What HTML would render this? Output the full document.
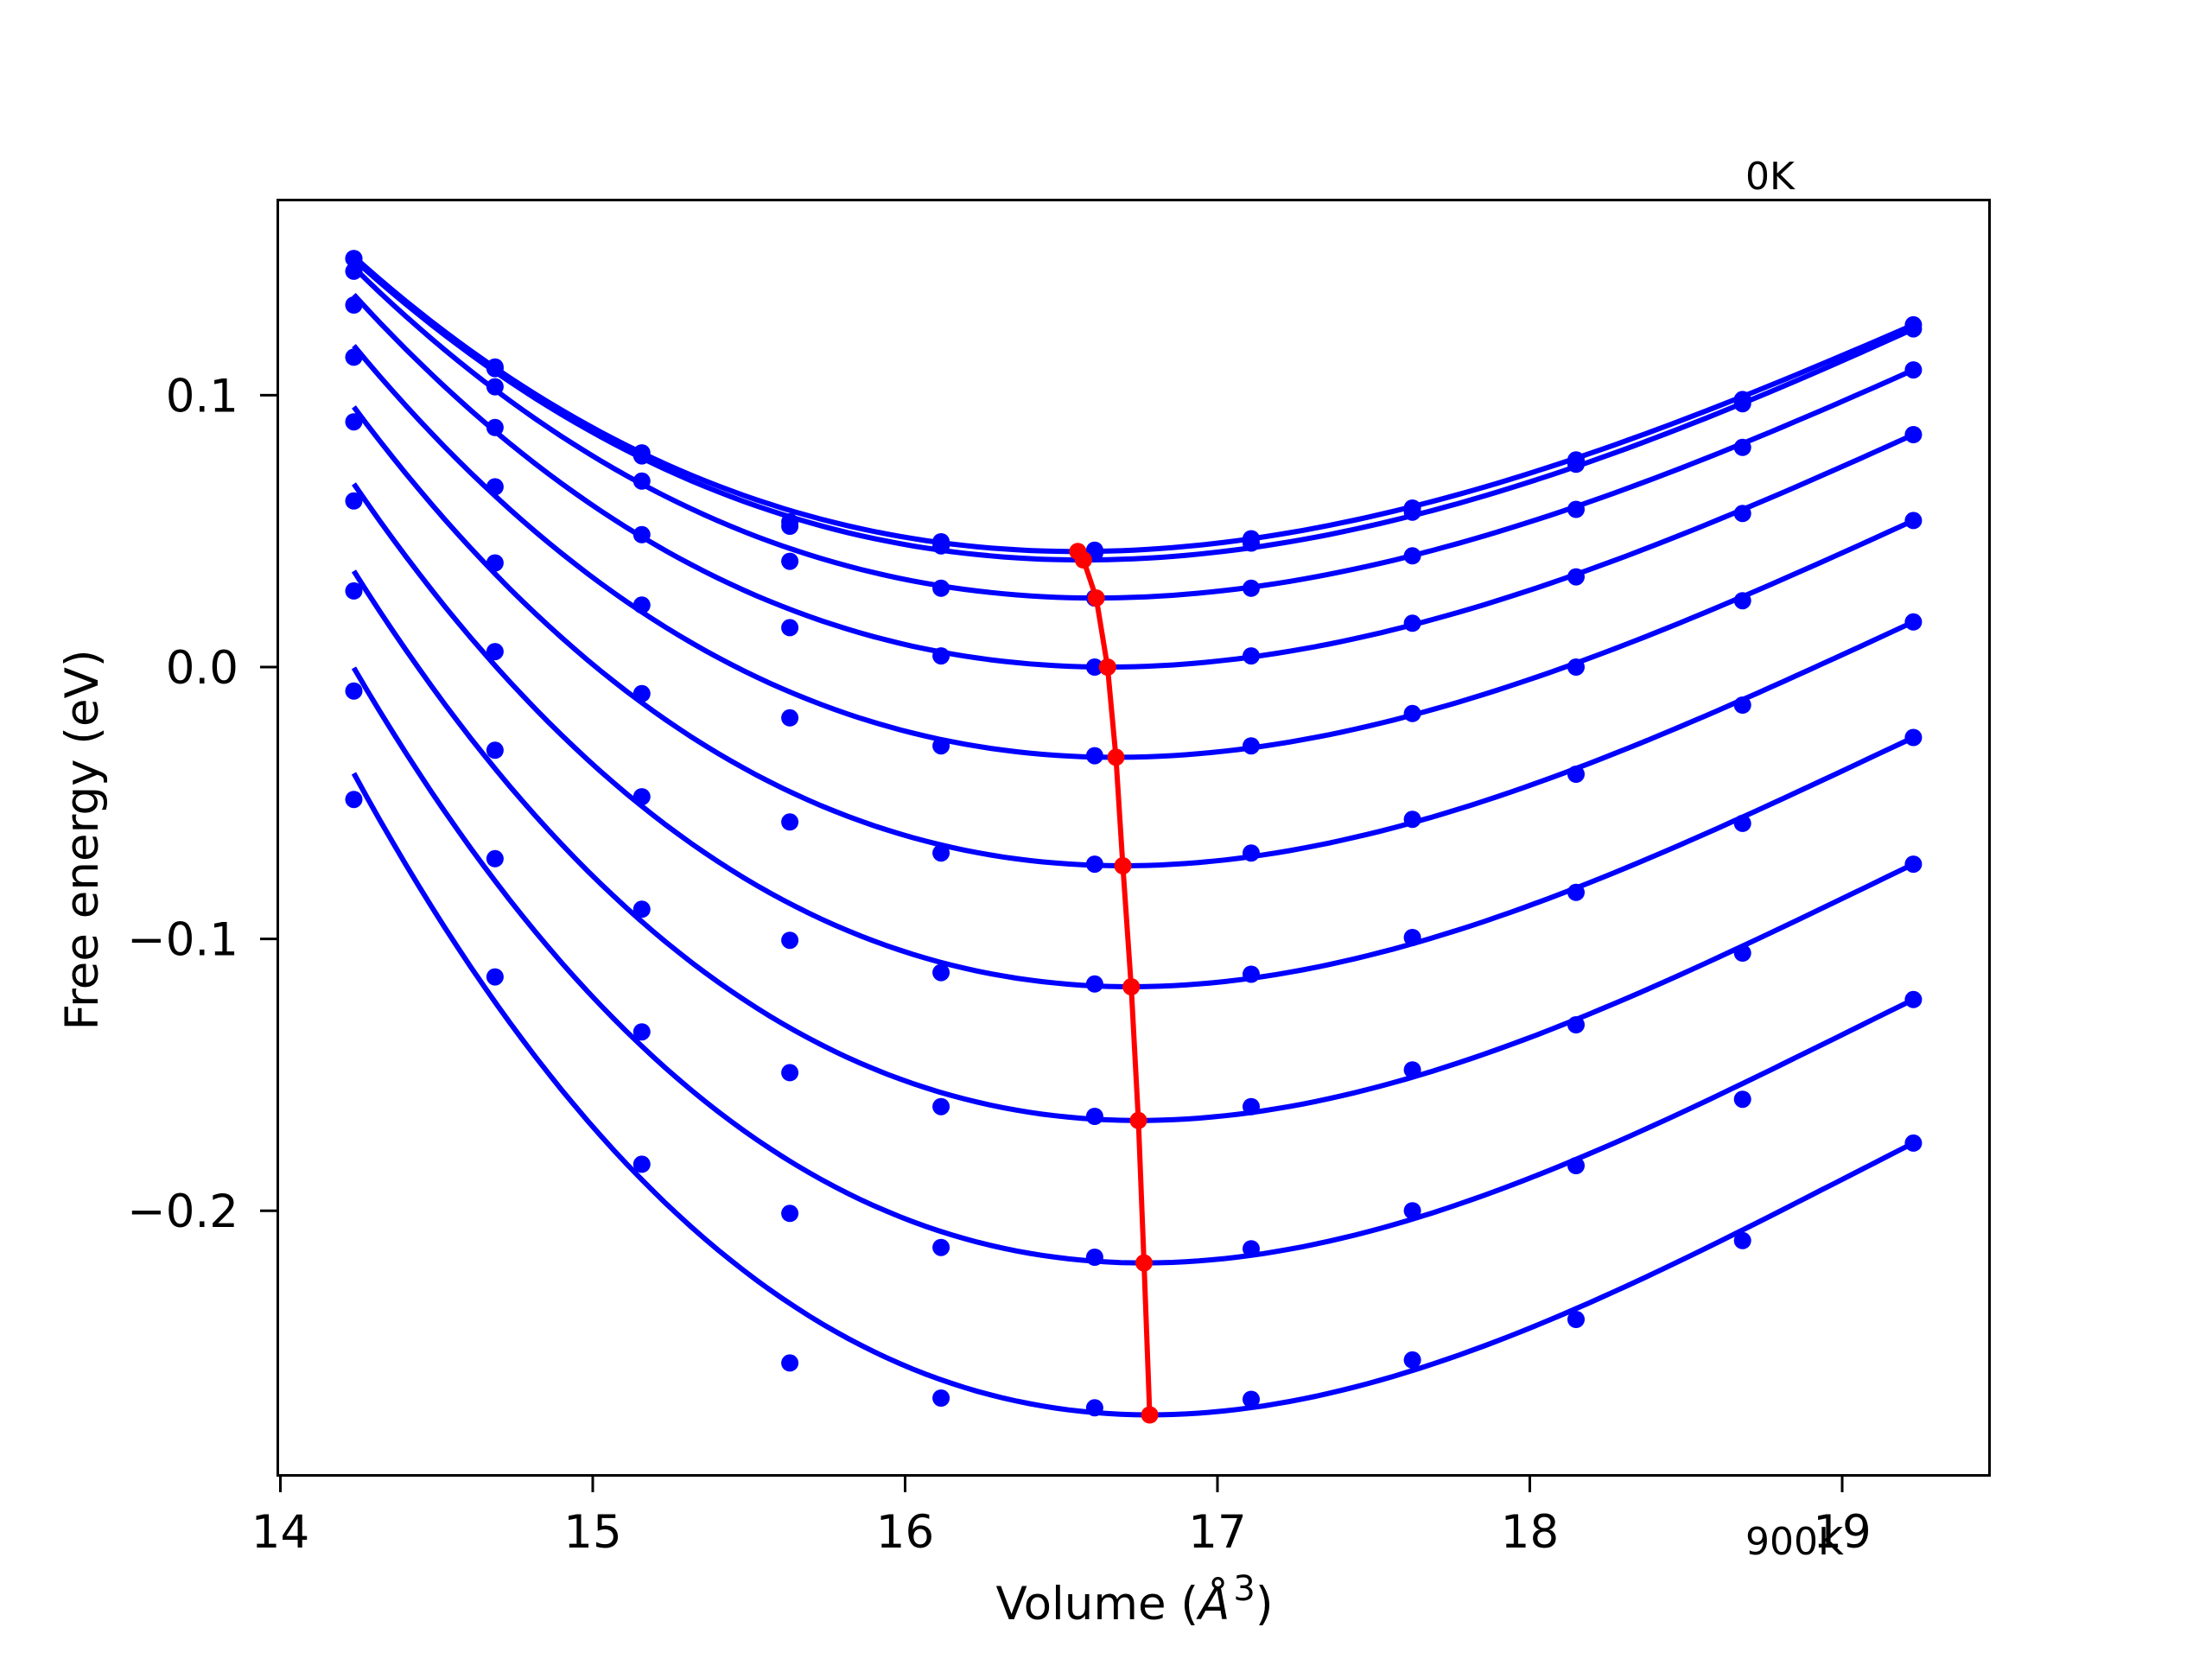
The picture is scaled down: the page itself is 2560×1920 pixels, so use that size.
<!DOCTYPE html>
<html><head><meta charset="utf-8">
<style>
html,body{margin:0;padding:0;background:#fff;}
svg{display:block;}
text{font-family:"DejaVu Sans","Liberation Sans",sans-serif;fill:#000;}
</style></head>
<body>
<svg id="chart" width="2560" height="1920" viewBox="0 0 2560 1920" xmlns="http://www.w3.org/2000/svg">
<rect x="0" y="0" width="2560" height="1920" fill="#fff"/>
<g id="plot"></g>
<rect x="321.5" y="231.5" width="1981" height="1476" fill="none" stroke="#000" stroke-width="3"/>
<g id="axes"></g>
<text x="1313" y="1874" font-size="53" text-anchor="middle">Volume (<tspan font-style="italic">Å</tspan><tspan font-size="40" dx="4" dy="-22">3</tspan><tspan dy="22">)</tspan></text>
<text x="0" y="0" font-size="53" text-anchor="middle" transform="translate(113,972) rotate(-90)">Free energy (eV)</text>
<text x="2020" y="219" font-size="44">0K</text>
<text x="2020" y="1799" font-size="44">900K</text>
</svg>
<script>
// ---- data ----
const volumes = [14.235,14.687,15.157,15.631,16.115,16.607,17.108,17.624,18.148,18.681,19.228];
const temps = ["0K","100K","200K","300K","400K","500K","600K","700K","800K","900K"];
const e0K   = [0.1503,0.1104,0.0788,0.0534,0.0461,0.0430,0.0472,0.0585,0.0762,0.0984,0.1259];
const e100K = [0.1503,0.1098,0.0777,0.0518,0.0446,0.0420,0.0456,0.0570,0.0746,0.0969,0.1244];
const e200K = [0.1456,0.1031,0.0684,0.0389,0.0290,0.0254,0.0290,0.0409,0.0580,0.0808,0.1093];
const e300K = [0.1332,0.0881,0.0487,0.0145,0.0041,0.0000,0.0041,0.0161,0.0332,0.0565,0.0855];
const e400K = [0.1140,0.0663,0.0228,-0.0187,-0.0290,-0.0326,-0.0290,-0.0171,0.0000,0.0244,0.0539];
const e500K = [0.0902,0.0383,-0.0098,-0.0570,-0.0684,-0.0725,-0.0684,-0.0560,-0.0394,-0.0140,0.0166];
const e600K = [0.0611,0.0057,-0.0477,-0.1005,-0.1124,-0.1166,-0.1130,-0.0995,-0.0829,-0.0575,-0.0259];
const e700K = [0.0280,-0.0306,-0.0891,-0.1492,-0.1617,-0.1653,-0.1617,-0.1482,-0.1316,-0.1052,-0.0725];
const e800K = [-0.0088,-0.0705,-0.1342,-0.2010,-0.2135,-0.2171,-0.2140,-0.2000,-0.1834,-0.1590,-0.1223];
const e900K = [-0.0487,-0.1140,-0.1829,-0.2560,-0.2689,-0.2725,-0.2694,-0.2549,-0.2400,-0.2110,-0.1751];
const energies = [e0K,e100K,e200K,e300K,e400K,e500K,e600K,e700K,e800K,e900K];
// fitted curve parameters: minimum volume & energy, curve values at ends
const minV = [16.553,16.571,16.612,16.648,16.675,16.697,16.724,16.747,16.765,16.783];
const minE = [0.0425,0.0394,0.0254,0.0000,-0.0332,-0.0731,-0.1176,-0.1668,-0.2192,-0.2751];
const fitLeft  = [0.1510,0.1500,0.1470,0.1370,0.1182,0.0957,0.0674,0.0353,-0.0003,-0.0391];
const fitRight = [0.1259,0.1244,0.1093,0.0855,0.0539,0.0166,-0.0259,-0.0725,-0.1223,-0.1751];
const xTicks = [14,15,16,17,18,19];
const xTickLabels = ["14","15","16","17","18","19"];
const yTicks = [0.1,0.0,-0.1,-0.2];
const yTickLabels = ["0.1","0.0","\u22120.1","\u22120.2"];

// ---- axes functions ----
const X0=324.5, XS=361.5, Y0=772, YS=3146;
function sx(v){return X0+(v-14)*XS;}
function sy(e){return Y0-e*YS;}
const NS="http://www.w3.org/2000/svg";
const plot=document.getElementById('plot');
const axes=document.getElementById('axes');
function mk(tag,attrs,parent){const el=document.createElementNS(NS,tag);for(const k in attrs)el.setAttribute(k,attrs[k]);parent.appendChild(el);return el;}

// fitted curves
for(let t=0;t<temps.length;t++){
  const vm=minV[t], em=minE[t];
  const xl=volumes[0]-vm, xr=volumes[volumes.length-1]-vm;
  const dl=fitLeft[t]-em, dr=fitRight[t]-em;
  const det=xl*xl*xr*xr*xr - xl*xl*xl*xr*xr;
  const a=(dl*xr*xr*xr - dr*xl*xl*xl)/det;
  const b=(xl*xl*dr - xr*xr*dl)/det;
  let d="";
  const N=120;
  for(let i=0;i<=N;i++){
    const v=volumes[0]+(volumes[volumes.length-1]-volumes[0])*i/N;
    const x=v-vm;
    const e=em+a*x*x+b*x*x*x;
    d+=(i?"L":"M")+sx(v).toFixed(1)+","+sy(e).toFixed(1);
  }
  const p=mk('path',{d:d,fill:"none",stroke:"#0000ff","stroke-width":"6"},plot);
  
  
}
// data points
for(let t=0;t<temps.length;t++){
  for(let i=0;i<volumes.length;i++){
    const c=mk('circle',{cx:sx(volumes[i]).toFixed(1),cy:sy(energies[t][i]).toFixed(1),r:"10",fill:"#0000ff"},plot);
    
    
  }
}
// minimum line
let md="";
for(let t=0;t<temps.length;t++){md+=(t?"L":"M")+sx(minV[t]).toFixed(1)+","+sy(minE[t]).toFixed(1);}
const ml=mk('path',{d:md,fill:"none",stroke:"#ff0000","stroke-width":"6"},plot);


for(let t=0;t<temps.length;t++){
  const c=mk('circle',{cx:sx(minV[t]).toFixed(1),cy:sy(minE[t]).toFixed(1),r:"10",fill:"#ff0000"},plot);
  
  
}
// ticks
for(let i=0;i<xTicks.length;i++){
  const x=sx(xTicks[i]);
  const tk=mk('line',{x1:x,y1:1708,x2:x,y2:1727,stroke:"#000","stroke-width":"3"},axes);
  
  
  const tl=mk('text',{x:x,y:1791,"font-size":"53","text-anchor":"middle"},axes);
  tl.textContent=xTickLabels[i];
  
  
}
for(let i=0;i<yTicks.length;i++){
  const y=sy(yTicks[i]);
  const tk=mk('line',{x1:301,y1:y,x2:321,y2:y,stroke:"#000","stroke-width":"3"},axes);
  
  
  const tl=mk('text',{x:276,y:y+19,"font-size":"53","text-anchor":"end"},axes);
  tl.textContent=yTickLabels[i];
  
  
}
</script>
</body></html>
